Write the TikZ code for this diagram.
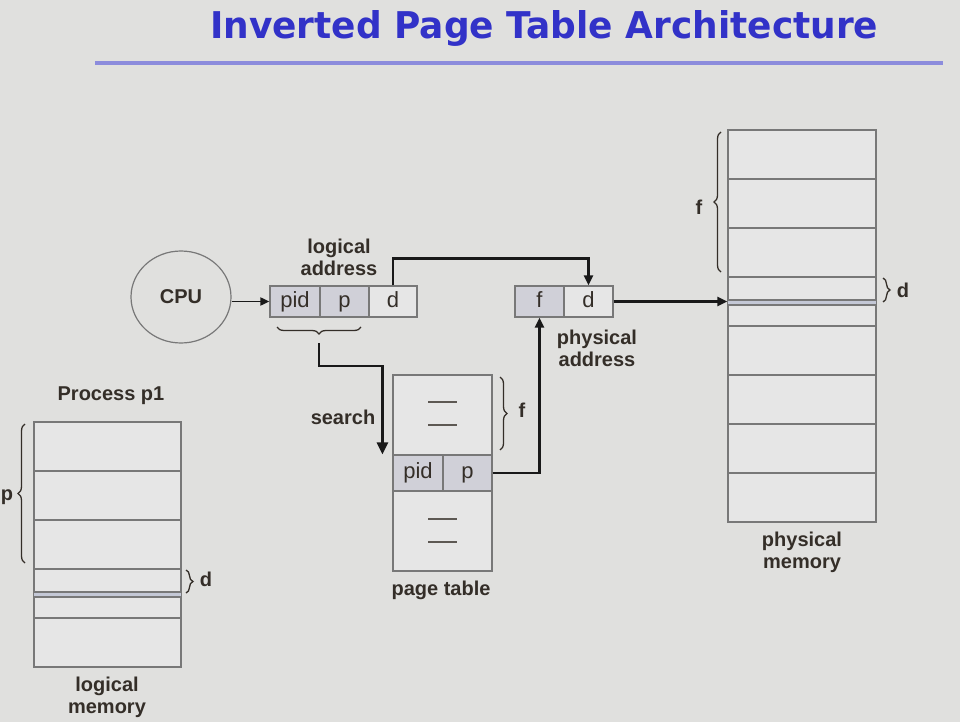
\documentclass[tikz,border=0pt]{standalone}
\usepackage{graphicx}
\usepackage{fontspec}
\setmainfont{Liberation Sans}
\newfontfamily\titlefont{DejaVu Sans}
\usetikzlibrary{arrows.meta,shapes.geometric,decorations.pathreplacing,calc}
\definecolor{bg}{RGB}{224,224,222}
\definecolor{txt}{RGB}{52,46,40}
\definecolor{titleblue}{RGB}{50,50,200}
\definecolor{titleline}{RGB}{140,140,220}
\definecolor{boxline}{RGB}{120,120,120}
\definecolor{shade}{RGB}{208,208,216}
\definecolor{light}{RGB}{230,230,230}
\definecolor{strip}{RGB}{196,200,214}
\begin{document}
\begin{tikzpicture}[x=1pt,y=-1pt,
  lbl/.style={text=txt,font=\fontsize{20}{22}\selectfont\bfseries,align=center,inner sep=0},
  celltxt/.style={text=txt,font=\fontsize{22}{24}\selectfont,text height=15pt,text depth=4pt},
  cell/.style={draw=boxline,line width=1.2pt,inner sep=0,minimum height=31pt,celltxt},
  memline/.style={draw=boxline,line width=1.2pt},
  arr/.style={draw=black!90,line width=2.2pt,-{Triangle[length=10pt,width=9pt]}},
  brc/.style={draw=txt,line width=1.3pt,decorate,decoration={brace,amplitude=7pt}},
  ptdash/.style={draw=txt!80,line width=2pt}]
\useasboundingbox (0,0) rectangle (960,722);
\fill[bg] (0,0) rectangle (960,722);
% title
\node[anchor=base west,inner sep=0,text=titleblue] (title) at (210,39)
  {\resizebox{668pt}{28pt}{\titlefont\bfseries Inverted Page Table Architecture}};
\draw[titleline,line width=4pt] (95,63) -- (943,63);
% CPU
\node[ellipse,draw=boxline,line width=1.2pt,minimum width=100pt,minimum height=92pt,lbl] (cpu) at (181,297) {CPU};
% logical address
\node[cell,fill=shade,minimum width=50pt] (lapid) at (295,301.5) {pid};
\node[cell,fill=shade,minimum width=49pt] (lap) at (344.5,301.5) {p};
\node[cell,fill=light,minimum width=48pt] (lad) at (393,301.5) {d};
\node[lbl] (lalbl) at (339,257) {logical\\address};
% physical address
\node[cell,fill=shade,minimum width=49pt] (paf) at (539.5,301.5) {f};
\node[cell,fill=light,minimum width=49pt] (pad) at (588.5,301.5) {d};
\node[lbl] (palbl) at (597,348) {physical\\address};
% page table
\node[draw=boxline,line width=1.2pt,fill=light,minimum width=99pt,minimum height=196pt,inner sep=0] (pt) at (442.5,473) {};
\node[draw=boxline,line width=1.2pt,fill=shade,minimum width=50pt,minimum height=36pt,inner sep=0,celltxt] (ptpid) at (418,473) {pid};
\node[draw=boxline,line width=1.2pt,fill=shade,minimum width=49pt,minimum height=36pt,inner sep=0,celltxt] (ptp) at (467.5,473) {p};
\draw[ptdash] (428,402) -- (457,402);
\draw[ptdash] (428,425) -- (457,425);
\draw[ptdash] (428,519) -- (457,519);
\draw[ptdash] (428,542) -- (457,542);
\node[lbl] (ptlbl) at (441,590) {page table};
\draw[brc] (500,377) -- (500,450);
\node[lbl] (ptf) at (522,410) {f};
\node[lbl] (search) at (343,417) {search};
% physical memory
\node[draw=boxline,line width=1.2pt,fill=light,minimum width=148pt,minimum height=392pt,inner sep=0] (pm) at (802,326) {};
\fill[strip] (728,300) rectangle (876,305);
\foreach \y in {179,228,277,300,305,326,375,424,473} \draw[memline] (728,\y) -- (876,\y);
\node[lbl] (pmlbl) at (802,552) {physical\\memory};
\draw[brc] (721,272) -- (721,132);
\node[lbl] (pmf) at (699,207) {f};
\draw[brc] (883,278) -- (883,302);
\node[lbl] (pmd) at (903,290) {d};
% logical memory
\node[draw=boxline,line width=1.2pt,fill=light,minimum width=147pt,minimum height=245pt,inner sep=0] (lm) at (107.5,544.5) {};
\fill[strip] (34,592) rectangle (181,597);
\foreach \y in {471,520,569,592,597,618} \draw[memline] (34,\y) -- (181,\y);
\node[lbl] (plbl) at (111,396) {Process p1};
\node[lbl] (lmlbl) at (107,697) {logical\\memory};
\draw[brc] (25,563) -- (25,424);
\node[lbl] (lmp) at (7,497) {p};
\draw[brc] (186,570) -- (186,593);
\node[lbl] (lmd) at (206,579) {d};
% brace under pid/p
\draw[brc] (361,327) -- (277,327);
\coordinate (brtip) at (319,343);
% connectors
\draw[draw=black!90,line width=1.8pt,-{Triangle[length=9pt,width=8pt]}] (cpu.east |- lapid.west) -- (lapid.west);
\draw[arr] (lad.north) -- ++(0,-27) -| (pad.north);
\draw[arr,line width=2.6pt,-{Triangle[length=12pt,width=11pt]}] (brtip) -- ++(0,23) -| ([xshift=-10pt]ptpid.north west);
\draw[arr] (ptp.east) -| (paf.south);
\draw[arr] (pad.east) -- (pad.east -| pm.west);
\end{tikzpicture}
\end{document}
